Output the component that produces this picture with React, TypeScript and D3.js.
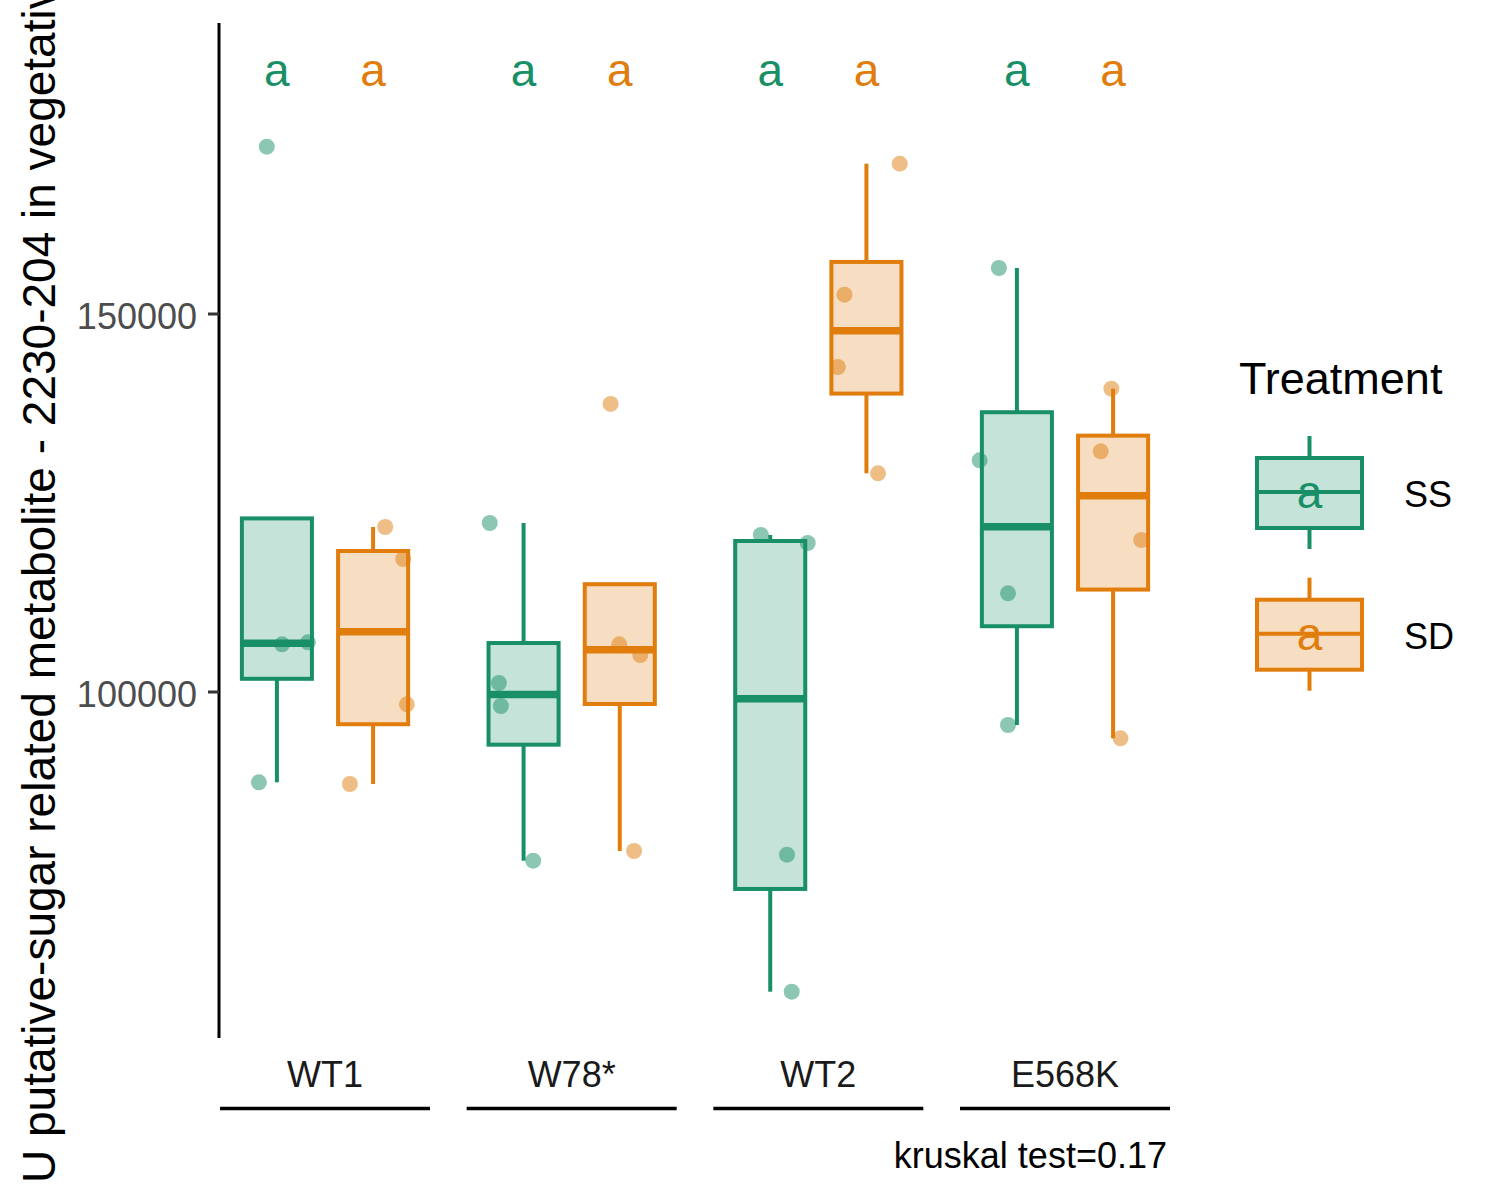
import * as d3 from 'd3'

// genotypes on the x axis, treatments dodged inside each
const genotypes = ['WT1', 'W78*', 'WT2', 'E568K']
const treatments = ['SS', 'SD']

// four replicates per genotype x treatment
const ssValues = [
  [172130, 106310, 106574, 88056],
  [122354, 101190, 98148, 77685],
  [120767, 119709, 78479, 60357],
  [156085, 130648, 113056, 95635]
]
const sdValues = [
  [121825, 117593, 98373, 87831],
  [138100, 106310, 104894, 78968],
  [169881, 152553, 142989, 128929],
  [140119, 131839, 120106, 93876]
]

// horizontal jitter of each point, in fractions of a category step
const ssJitter = [
  [-0.041, 0.021, 0.126, -0.073],
  [-0.137, -0.1, -0.092, 0.039],
  [-0.038, 0.152, 0.068, 0.087],
  [-0.073, -0.151, -0.036, -0.036]
]
const sdJitter = [
  [0.049, 0.122, 0.137, -0.094],
  [-0.037, -0.002, 0.083, 0.058],
  [0.135, -0.089, -0.116, 0.047],
  [-0.007, -0.05, 0.114, 0.03]
]

// compact letter display above each box
const ssLetters = ['a', 'a', 'a', 'a']
const sdLetters = ['a', 'a', 'a', 'a']

const yTicks = [100000, 150000]
const kruskalP = 0.17

const colors: Record<string, string> = { SS: '#188F66', SD: '#E07D0D' }
const font = '"Liberation Sans", Arial, Helvetica, sans-serif'

interface BoxStats {
  q1: number
  med: number
  q3: number
  lo: number
  hi: number
}

// same rules as ggplot2 stat_boxplot (type 7 quantiles, 1.5 IQR)
function boxStats(vals: number[]): BoxStats {
  const s = vals.slice().sort(d3.ascending)
  const q1 = d3.quantile(s, 0.25) as number
  const med = d3.quantile(s, 0.5) as number
  const q3 = d3.quantile(s, 0.75) as number
  const iqr = q3 - q1
  const inside = s.filter(v => v >= q1 - 1.5 * iqr && v <= q3 + 1.5 * iqr)
  const lo = Math.min(q1, d3.min(inside) as number)
  const hi = Math.max(q3, d3.max(inside) as number)
  return { q1, med, q3, lo, hi }
}

export default function App() {
  const width = 1500
  const height = 1200
  const panel = { left: 220, right: 1170, top: 23, bottom: 1038 }

  const x = d3.scalePoint<string>()
    .domain(genotypes)
    .range([panel.left, panel.right])
    .padding(0.4257)
  const step = x.step()
  const dodge = 0.195 * step
  const boxW = 0.284 * step

  const y = d3.scaleLinear()
    .domain([54233, 188492])
    .range([panel.bottom, panel.top])

  const series = [
    { key: 'SS', values: ssValues, jitter: ssJitter, letters: ssLetters, off: -dodge },
    { key: 'SD', values: sdValues, jitter: sdJitter, letters: sdLetters, off: dodge }
  ]

  const legendItems = treatments.map((t, i) => ({ key: t, top: 436 + i * 141.7 }))

  return (
    <svg
      width={width}
      height={height}
      style={{ position: 'absolute', left: 0, top: 0, display: 'block', background: '#fff' }}
      fontFamily={font}
    >
      {/* boxes */}
      {series.map(s =>
        genotypes.map((g, gi) => {
          const st = boxStats(s.values[gi])
          const cx = (x(g) as number) + s.off
          const col = colors[s.key]
          return (
            <g key={s.key + g}>
              <line x1={cx} x2={cx} y1={y(st.q3)} y2={y(st.hi)} stroke={col} strokeWidth={4} />
              <line x1={cx} x2={cx} y1={y(st.q1)} y2={y(st.lo)} stroke={col} strokeWidth={4} />
              <rect
                x={cx - boxW / 2}
                y={y(st.q3)}
                width={boxW}
                height={y(st.q1) - y(st.q3)}
                fill={col}
                fillOpacity={0.25}
                stroke={col}
                strokeWidth={4}
              />
              <line x1={cx - boxW / 2} x2={cx + boxW / 2} y1={y(st.med)} y2={y(st.med)} stroke={col} strokeWidth={7.5} />
            </g>
          )
        })
      )}

      {/* jittered points */}
      {series.map(s =>
        genotypes.map((g, gi) =>
          s.values[gi].map((v, i) => (
            <circle
              key={s.key + g + i}
              cx={(x(g) as number) + s.off + s.jitter[gi][i] * step}
              cy={y(v)}
              r={8}
              fill={colors[s.key]}
              fillOpacity={0.5}
            />
          ))
        )
      )}

      {/* letters */}
      {series.map(s =>
        genotypes.map((g, gi) => (
          <text
            key={'l' + s.key + g}
            x={(x(g) as number) + s.off}
            y={86}
            textAnchor="middle"
            fontSize={46}
            fill={colors[s.key]}
          >
            {s.letters[gi]}
          </text>
        ))
      )}

      {/* y axis */}
      <line x1={panel.left - 1} x2={panel.left - 1} y1={panel.top} y2={panel.bottom} stroke="#000" strokeWidth={3} />
      {yTicks.map(t => (
        <g key={t}>
          <line x1={panel.left - 12} x2={panel.left - 1} y1={y(t)} y2={y(t)} stroke="#333" strokeWidth={3} />
          <text x={197} y={y(t) + 15} textAnchor="end" fontSize={36} fill="#4D4D4D">
            {t}
          </text>
        </g>
      ))}
      <text transform="translate(55,1183) rotate(-90)" fontSize={46} fill="#000">
        U putative-sugar related metabolite - 2230-204 in vegetative
      </text>

      {/* genotype labels with underline */}
      {genotypes.map(g => (
        <g key={'x' + g}>
          <text x={x(g)} y={1087} textAnchor="middle" fontSize={36} fill="#1A1A1A">
            {g}
          </text>
          <line
            x1={(x(g) as number) - 105}
            x2={(x(g) as number) + 105}
            y1={1108.5}
            y2={1108.5}
            stroke="#000"
            strokeWidth={3.5}
          />
        </g>
      ))}
      <text x={1167} y={1168} textAnchor="end" fontSize={36} fill="#000">
        kruskal test={kruskalP}
      </text>

      {/* legend */}
      <text x={1239} y={394} fontSize={45} fill="#000">Treatment</text>
      {legendItems.map(it => {
        const col = colors[it.key]
        const cx = 1309.5
        return (
          <g key={'lg' + it.key}>
            <line x1={cx} x2={cx} y1={it.top} y2={it.top + 113} stroke={col} strokeWidth={4} />
            <rect x={1257} y={it.top + 22} width={105} height={70} fill="#fff" />
            <rect
              x={1257}
              y={it.top + 22}
              width={105}
              height={70}
              fill={col}
              fillOpacity={0.25}
              stroke={col}
              strokeWidth={4}
            />
            <line x1={1257} x2={1362} y1={it.top + 56} y2={it.top + 56} stroke={col} strokeWidth={4} />
            <text x={cx} y={it.top + 72} textAnchor="middle" fontSize={46} fill={col}>a</text>
            <text x={1404} y={it.top + 71} fontSize={36} fill="#000">{it.key}</text>
          </g>
        )
      })}
    </svg>
  )
}
